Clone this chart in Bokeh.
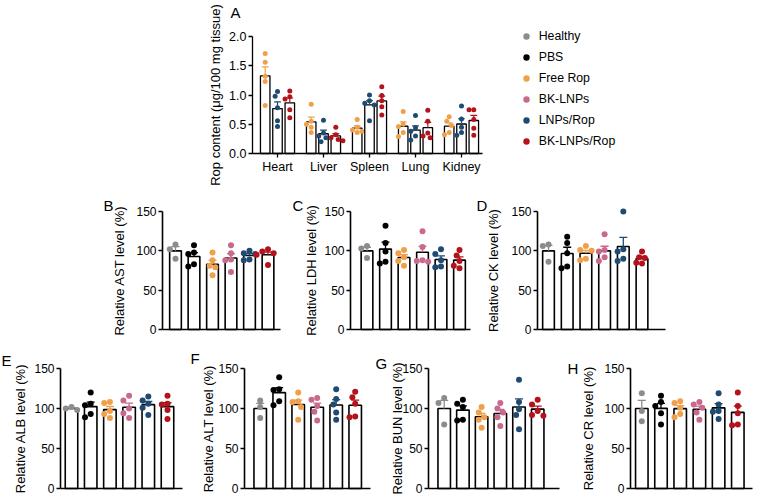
import numpy as np
from bokeh.plotting import figure
from bokeh.models import (Range1d, FixedTicker, Label, Legend, LegendItem,
                          NumeralTickFormatter)
from bokeh.layouts import row, column
from bokeh.embed import file_html
from bokeh.resources import INLINE

FONT = "Liberation Sans"

# ---------------- data ----------------
groups = ["Healthy", "PBS", "Free Rop", "BK-LNPs", "LNPs/Rop", "BK-LNPs/Rop"]
group_colors = ["#8c8c8c", "#000000", "#f0a04b", "#c8698d", "#1f4a72", "#b3131d"]

# Panel A: Rop content (ug/100 mg tissue), one list of points per organ
organs = ["Heart", "Liver", "Spleen", "Lung", "Kidney"]
a_groups = ["Free Rop", "LNPs/Rop", "BK-LNPs/Rop"]
rop_free = [[1.71, 1.56, 1.32, 1.23, 0.82],
            [0.84, 0.55, 0.50, 0.45, 0.36],
            [0.58, 0.45, 0.40, 0.38, 0.36],
            [0.72, 0.50, 0.46, 0.36, 0.29],
            [0.63, 0.55, 0.48, 0.36, 0.32]]
rop_lnps = [[1.06, 0.98, 0.78, 0.56, 0.46],
            [0.57, 0.35, 0.30, 0.27, 0.20],
            [1.00, 0.90, 0.86, 0.83, 0.56],
            [0.65, 0.44, 0.38, 0.30, 0.23],
            [0.81, 0.59, 0.45, 0.36, 0.31]]
rop_bk_lnps = [[1.07, 0.97, 0.93, 0.75, 0.61],
               [0.45, 0.32, 0.27, 0.24, 0.22],
               [1.14, 0.99, 0.90, 0.80, 0.66],
               [0.74, 0.55, 0.35, 0.30, 0.27],
               [0.75, 0.75, 0.58, 0.43, 0.31]]
a_yticks = [0, 0.5, 1.0, 1.5, 2.0]

# Panels B-H: relative serum levels (%), one list of points per group
serum_yticks = [0, 50, 100, 150]
ast = [[108, 102, 90], [107, 98, 96, 83, 80], [98, 88, 81, 79, 69],
       [107, 97, 89, 88, 73], [100, 97, 96, 89, 88], [102, 99, 97, 95, 82]]
ldh = [[106, 103, 91], [132, 110, 99, 86, 84], [101, 97, 92, 87, 81],
       [125, 105, 88, 87, 86], [102, 96, 88, 80, 79], [101, 94, 87, 81, 78]]
ck = [[108, 106, 86], [118, 110, 97, 80, 78], [106, 101, 100, 90, 88],
      [121, 101, 99, 92, 87], [150, 102, 99, 90, 87], [99, 92, 91, 85, 84]]
alb = [[102, 100, 98], [120, 106, 104, 93, 89], [108, 107, 97, 93, 88],
       [116, 110, 100, 94, 88], [115, 110, 106, 101, 92], [116, 106, 105, 98, 87]]
alt = [[110, 102, 88], [139, 124, 123, 109, 104], [120, 109, 108, 102, 86],
       [113, 111, 103, 96, 85], [124, 112, 105, 95, 86], [121, 114, 106, 90, 89]]
bun = [[113, 107, 80], [111, 106, 102, 86, 85], [102, 95, 89, 86, 76],
       [107, 100, 95, 89, 78], [136, 108, 99, 92, 74], [111, 105, 97, 92, 91]]
cr = [[119, 97, 84], [116, 108, 103, 94, 80], [109, 107, 101, 93, 89],
      [108, 105, 101, 95, 86], [119, 105, 97, 96, 87], [120, 103, 94, 80, 79]]


# ---------------- helpers ----------------
def mean_sem(vals):
    v = np.asarray(vals, dtype=float)
    return float(v.mean()), float(v.std(ddof=1) / np.sqrt(len(v)))


def swarm_offsets(vals, px_y, d):
    """pixel x-offsets so that dots of diameter d do not overlap"""
    order = sorted(range(len(vals)), key=lambda i: -vals[i])
    placed = []
    offs = [0.0] * len(vals)
    step = d * 0.95
    cands = [0, -0.5, 0.5, -1, 1, -1.5, 1.5, -2, 2]
    for i in order:
        y = vals[i] * px_y
        xo = 0.0
        for c in cands:
            xo = c * step
            if all((xo - a) ** 2 + (y - b) ** 2 >= (d * 0.95) ** 2 for a, b in placed):
                break
        placed.append((xo, y))
        offs[i] = xo
    return offs


def style_axis(ax, tick_fs, lw):
    ax.axis_line_color = "black"
    ax.axis_line_width = lw
    ax.major_tick_line_color = "black"
    ax.major_tick_line_width = lw
    ax.major_tick_out = 4
    ax.major_tick_in = 0
    ax.minor_tick_line_color = None
    ax.major_label_text_font = FONT
    ax.major_label_text_font_size = tick_fs
    ax.major_label_text_color = "black"
    ax.major_label_standoff = 2
    ax.axis_label_text_font = FONT
    ax.axis_label_text_font_style = "normal"
    ax.axis_label_text_color = "black"
    ax.axis_label_text_font_size = "13px"


def base_fig(w, h, xr, yr):
    p = figure(width=w, height=h, x_range=xr, y_range=yr, title=None,
               output_backend="svg", toolbar_location=None,
               min_border_left=0, min_border_right=0,
               min_border_top=0, min_border_bottom=0)
    p.xgrid.grid_line_color = None
    p.ygrid.grid_line_color = None
    p.outline_line_color = None
    p.background_fill_color = "white"
    p.border_fill_color = "white"
    return p


def letter(p, text, sx, sy_from_bottom):
    p.add_layout(Label(x=sx, y=sy_from_bottom, x_units="screen", y_units="screen",
                       text=text, text_font=FONT, text_font_size="15px",
                       text_color="black", text_baseline="middle", text_align="left"))


# ---------------- panel A ----------------
A_W, A_H = 764, 190
a_left, a_right, a_top, a_bottom = 252, 482, 36, 153      # axis box in pixels
a_first, a_sp = 277, 46.0                                   # first group centre, group pitch
a_px_y = (a_bottom - a_top) / 2.0
pa = base_fig(A_W, A_H,
              Range1d((0 - a_first) / a_sp, (A_W - a_first) / a_sp),
              Range1d(-(A_H - a_bottom) / a_px_y, 2.0 + a_top / a_px_y))

a_data = [rop_free, rop_lnps, rop_bk_lnps]
a_cols = [group_colors[groups.index(g)] for g in a_groups]
a_offsets = [-12.3 / a_sp, 0.0, 12.3 / a_sp]
a_bw = 9.5 / a_sp
a_cap = 3.4 / a_sp
legend_renderers = {}
for gi, (gdata, col) in enumerate(zip(a_data, a_cols)):
    xb, means, his, px, py = [], [], [], [], []
    for oi, vals in enumerate(gdata):
        m, s = mean_sem(vals)
        xc = oi + a_offsets[gi]
        xb.append(xc); means.append(m); his.append(m + s)
        offs = swarm_offsets(vals, a_px_y, 5)
        px += [xc + o / a_sp for o in offs]
        py += list(vals)
    pa.vbar(x=xb, top=means, bottom=0, width=a_bw, fill_color="white",
            line_color="black", line_width=1.3)
    pa.segment(x0=xb, y0=means, x1=xb, y1=his, line_color=col, line_width=1.2)
    pa.segment(x0=[x - a_cap for x in xb], y0=his, x1=[x + a_cap for x in xb], y1=his,
               line_color=col, line_width=1.2)
    r = pa.scatter(x=px, y=py, size=5, fill_color=col, line_color=None)
    legend_renderers[a_groups[gi]] = r

# groups not shown in panel A only appear in the legend (NaN point: nothing drawn)
for g, col in zip(groups, group_colors):
    if g not in legend_renderers:
        legend_renderers[g] = pa.scatter(x=[float("nan")], y=[float("nan")], size=5,
                                         fill_color=col, line_color=None)

style_axis(pa.xaxis[0], "12.5px", 1.3)
style_axis(pa.yaxis[0], "12.5px", 1.3)
pa.xaxis.ticker = FixedTicker(ticks=list(range(len(organs))))
pa.xaxis.major_label_overrides = {i: o for i, o in enumerate(organs)}
pa.xaxis.fixed_location = 0
pa.xaxis.bounds = ((a_left - a_first) / a_sp, (a_right - a_first) / a_sp)
pa.yaxis.ticker = FixedTicker(ticks=a_yticks)
pa.yaxis.formatter = NumeralTickFormatter(format="0.0")
pa.yaxis.fixed_location = (a_left - a_first) / a_sp
pa.yaxis.bounds = (0, 2.0)
pa.yaxis.axis_label = "Rop content (μg/100 mg tissue)"
pa.yaxis.axis_label_standoff = 3
letter(pa, "A", 230, A_H - 12)

LEG_ROW_H, LEG_GAP = 18, 3
legend = Legend(items=[LegendItem(label=g, renderers=[legend_renderers[g]]) for g in groups],
                location=(517.7, A_H - 27 - (6 * LEG_ROW_H + 5 * LEG_GAP)),
                orientation="vertical", padding=0, spacing=LEG_GAP,
                glyph_height=LEG_ROW_H, glyph_width=16, label_height=LEG_ROW_H,
                label_standoff=5, margin=0, border_line_color=None,
                background_fill_alpha=0, label_text_font=FONT,
                label_text_font_size="12.3px", label_text_color="black")
pa.add_layout(legend)


# ---------------- panels B-H ----------------
def serum_panel(letter_txt, ylabel, data, fig_x0, fig_w, ax_l, ax_r, first, sp,
                row_top, row_h, y150, y0, lab_standoff, letter_pos, bw_px):
    px_y = (y0 - y150) / 150.0
    p = base_fig(fig_w, row_h,
                 Range1d((fig_x0 - first) / sp, (fig_x0 + fig_w - first) / sp),
                 Range1d(-(row_top + row_h - y0) / px_y, 150 + (y150 - row_top) / px_y))
    xs = list(range(len(groups)))
    ms = [mean_sem(v) for v in data]
    means = [m for m, s in ms]
    his = [m + s for m, s in ms]
    p.vbar(x=xs, top=means, bottom=0, width=bw_px / sp, fill_color="white",
           line_color="black", line_width=1.6)
    cap = 4.0 / sp
    p.segment(x0=xs, y0=means, x1=xs, y1=his, line_color=group_colors, line_width=1.3)
    p.segment(x0=[x - cap for x in xs], y0=his, x1=[x + cap for x in xs], y1=his,
              line_color=group_colors, line_width=1.3)
    for i, vals in enumerate(data):
        offs = swarm_offsets(vals, px_y, 6)
        p.scatter(x=[i + o / sp for o in offs], y=vals, size=6,
                  fill_color=group_colors[i], line_color=None)
    style_axis(p.xaxis[0], "12px", 1.6)
    style_axis(p.yaxis[0], "12px", 1.6)
    p.xaxis.ticker = FixedTicker(ticks=[])
    p.xaxis.major_tick_line_color = None
    p.xaxis.fixed_location = 0
    p.xaxis.bounds = ((ax_l - first) / sp, (ax_r - first) / sp)
    p.yaxis.ticker = FixedTicker(ticks=serum_yticks)
    p.yaxis.fixed_location = (ax_l - first) / sp
    p.yaxis.bounds = (0, 150)
    p.yaxis.axis_label = ylabel
    p.yaxis.axis_label_standoff = lab_standoff
    letter(p, letter_txt, letter_pos[0] - fig_x0, row_top + row_h - letter_pos[1])
    return p


R2_TOP, R2_H, R2_150, R2_0 = 190, 150, 211, 329
R3_TOP, R3_H, R3_150, R3_0 = 340, 160, 368, 488

pb = serum_panel("B", "Relative AST level (%)", ast, 0, 285, 162, 280, 175, 18.5,
                 R2_TOP, R2_H, R2_150, R2_0, 6, (103, 205), 11.7)
pc = serum_panel("C", "Relative LDH level (%)", ldh, 285, 190, 350, 470, 366.5, 18.5,
                 R2_TOP, R2_H, R2_150, R2_0, 2, (292, 205), 11.7)
pd_ = serum_panel("D", "Relative CK level (%)", ck, 475, 289, 537, 665, 548, 18.7,
                  R2_TOP, R2_H, R2_150, R2_0, 7, (476, 205), 11.7)
pe = serum_panel("E", "Relative ALB level (%)", alb, 0, 190, 60, 182, 71, 19.2,
                 R3_TOP, R3_H, R3_150, R3_0, 3, (1, 360), 12.5)
pf = serum_panel("F", "Relative ALT level (%)", alt, 190, 185, 244, 370, 259.7, 19.0,
                 R3_TOP, R3_H, R3_150, R3_0, -1, (190, 358), 12.5)
pg = serum_panel("G", "Relative BUN level (%)", bun, 375, 190, 428, 559, 443.7, 18.7,
                 R3_TOP, R3_H, R3_150, R3_0, -6, (375, 363), 12.5)
ph = serum_panel("H", "Relative CR level (%)", cr, 565, 199, 630, 752, 641.3, 19.2,
                 R3_TOP, R3_H, R3_150, R3_0, 5, (567, 368), 12.5)

layout = column(pa, row(pb, pc, pd_, spacing=0), row(pe, pf, pg, ph, spacing=0), spacing=0)

open("out.html", "w").write(file_html(layout, INLINE))
